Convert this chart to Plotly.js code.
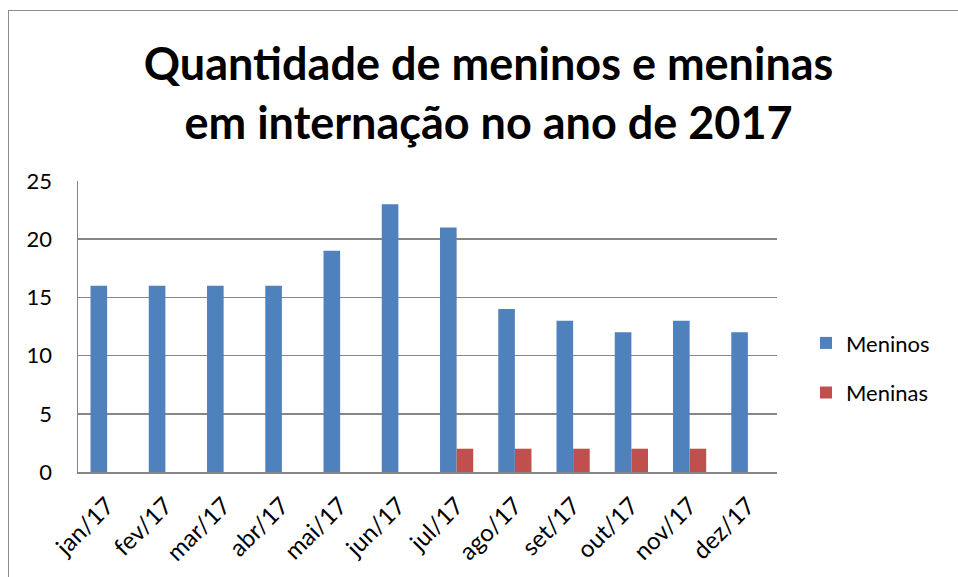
<!DOCTYPE html>
<html>
<head>
<meta charset="utf-8">
<script src="https://cdn.plot.ly/plotly-3.0.1.min.js"></script>
<style>
  html, body { margin: 0; padding: 0; background: #fff; overflow: hidden; }
  #chart { width: 958px; height: 577px; position: absolute; left: 0; top: 0; }
  #frame { position: absolute; left: 8px; top: 10px; width: 1000px; height: 700px;
           border-left: 1.5px solid #8c8c8c; border-top: 1.5px solid #8c8c8c; pointer-events: none; }
</style>
</head>
<body>
<div id="chart"></div>
<div id="frame"></div>
<script>
const months = ["jan/17","fev/17","mar/17","abr/17","mai/17","jun/17","jul/17","ago/17","set/17","out/17","nov/17","dez/17"];
const meninos = [16,16,16,16,19,23,21,14,13,12,13,12];
const meninas = [0,0,0,0,0,0,2,2,2,2,2,0];
const titleLines = ["Quantidade de meninos e meninas", "em internação no ano de 2017"];

const FONT = "Lato, 'Open Sans', sans-serif";

const data = [
  { type: "bar", name: "Meninos", x: months, y: meninos, marker: { color: "#4F81BD" }, legendgroup: "a" },
  { type: "bar", name: "Meninas", x: months, y: meninas, marker: { color: "#C0504D" }, legendgroup: "b" }
];

const layout = {
  width: 958, height: 577,
  margin: { l: 78, r: 181, t: 181, b: 105, pad: 0 },
  paper_bgcolor: "#ffffff", plot_bgcolor: "#ffffff",
  font: { family: FONT, size: 22, color: "#000" },
  title: {
    text: "<b>" + titleLines[0] + "<br>" + titleLines[1] + "</b>",
    font: { family: FONT, size: 45, color: "#000" },
    x: 0.51, xanchor: "center", xref: "container",
    y: 1 - 80/577, yanchor: "top", yref: "container"
  },
  barmode: "group", bargap: 0.43, bargroupgap: 0,
  xaxis: {
    type: "category", tickangle: -45, showgrid: false,
    showline: true, linecolor: "#868686", linewidth: 2,
    ticks: "", ticklabelstandoff: 8, tickfont: { family: FONT, size: 24, color: "#000" }
  },
  yaxis: {
    range: [0, 25], dtick: 5, tick0: 0, showgrid: true, gridcolor: "#868686", gridwidth: 1.5,
    showline: true, linecolor: "#868686", linewidth: 1.5, zeroline: false,
    ticks: "", ticklabelstandoff: 20, tickfont: { family: FONT, size: 22, color: "#000" }
  },
  showlegend: true,
  legend: {
    x: 1.0415, xanchor: "left", y: 0.357, yanchor: "middle",
    font: { family: FONT, size: 22, color: "#000" },
    tracegroupgap: 18, traceorder: "grouped", bgcolor: "rgba(0,0,0,0)"
  }
};

Plotly.newPlot("chart", data, layout, { displayModeBar: false, staticPlot: true });
</script>
</body>
</html>
